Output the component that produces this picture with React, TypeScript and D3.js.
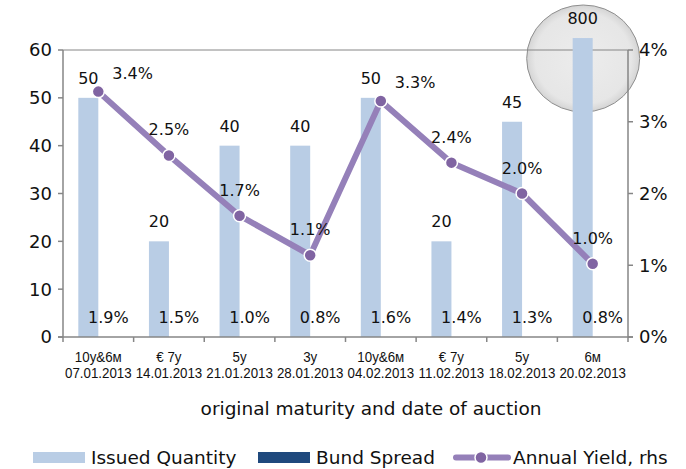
import React from "react";
import * as d3 from "d3";

const categories = ["10y&6м|07.01.2013", "€ 7y|14.01.2013", "5y|21.01.2013", "3y|28.01.2013", "10y&6м|04.02.2013", "€ 7y|11.02.2013", "5y|18.02.2013", "6м|20.02.2013"];
const issuedQuantity = [50, 20, 40, 40, 50, 20, 45, 800];
const bundSpread = [1.9, 1.5, 1.0, 0.8, 1.6, 1.4, 1.3, 0.8];
const annualYield = [3.42, 2.53, 1.69, 1.14, 3.29, 2.43, 2.0, 1.02];
const leftTicks = [0, 10, 20, 30, 40, 50, 60];
const rightTicks = [0, 1, 2, 3, 4];
const yieldLabelPlacement = ["right", "above", "above", "above", "right", "above", "above", "above"];

const W = 686, H = 469;
const M = { left: 63, right: 628, top: 50, bottom: 337 };
const BREAK_CAP = 62.5;
const FONT = "'DejaVu Sans', Verdana, sans-serif";
const NARROW = "'Liberation Sans', Arial, sans-serif";
const AXIS = "#868686";
const BAR = "#B9CDE5";
const DARK = "#1F497D";
const LINE = "#9580B9";
const DOT = "#8064A2";

export default function App() {
  const x = d3.scaleBand<number>().domain(d3.range(categories.length)).range([M.left, M.right]).paddingInner(0).paddingOuter(0);
  const yL = d3.scaleLinear().domain([0, 60]).range([M.bottom, M.top]);
  const yR = d3.scaleLinear().domain([0, 4]).range([M.bottom, M.top]);
  const cx = (i: number) => (x(i) as number) + x.bandwidth() / 2;
  const barW = 20;
  const line = d3.line<number>().x((_, i) => cx(i)).y((d) => yR(d));

  const lastI = issuedQuantity.length - 1;
  const magCx = cx(lastI) - 9.5;

  return (
    <svg width={W} height={H} style={{ position: "absolute", left: 0, top: 0, background: "#fff" }}>
      <defs>
        <radialGradient id="mag" cx="50%" cy="50%" r="50%">
          <stop offset="0%" stopColor="#e6e6e6" stopOpacity={0.75} />
          <stop offset="85%" stopColor="#e0e0e0" stopOpacity={0.8} />
          <stop offset="100%" stopColor="#cfcfcf" stopOpacity={0.9} />
        </radialGradient>
      </defs>

      {/* magnifier */}
      <ellipse cx={magCx} cy={58.5} rx={56.5} ry={53.5} fill="url(#mag)" stroke="#8f8f8f" strokeWidth={1} />

      {/* top border */}
      <line x1={M.left} x2={M.right} y1={M.top} y2={M.top} stroke={AXIS} strokeWidth={1} />

      {/* issued quantity bars */}
      {issuedQuantity.map((v, i) => (
        <rect key={"b" + i} x={cx(i) - barW} width={barW} y={yL(Math.min(v, BREAK_CAP))} height={M.bottom - yL(Math.min(v, BREAK_CAP))} fill={BAR} />
      ))}

      {/* left axis */}
      <line x1={M.left} x2={M.left} y1={M.top} y2={M.bottom} stroke={AXIS} strokeWidth={1.5} />
      {leftTicks.map((t) => (
        <g key={"lt" + t}>
          <line x1={M.left - 5} x2={M.left} y1={yL(t)} y2={yL(t)} stroke={AXIS} strokeWidth={1.5} />
          <text x={52} y={yL(t)} dy="0.36em" textAnchor="end" fontFamily={FONT} fontSize={18} fill="#111">{t}</text>
        </g>
      ))}

      {/* right axis */}
      <line x1={M.right} x2={M.right} y1={M.top} y2={M.bottom} stroke={AXIS} strokeWidth={1.5} />
      {rightTicks.map((t) => (
        <g key={"rt" + t}>
          <line x1={M.right} x2={M.right + 5} y1={yR(t)} y2={yR(t)} stroke={AXIS} strokeWidth={1.5} />
          <text x={639} y={yR(t)} dy="0.36em" textAnchor="start" fontFamily={FONT} fontSize={18} fill="#111">{t + "%"}</text>
        </g>
      ))}

      {/* x axis */}
      <line x1={M.left - 5} x2={M.right + 5} y1={M.bottom} y2={M.bottom} stroke={AXIS} strokeWidth={1.5} />
      {d3.range(categories.length + 1).map((i) => {
        const xx = i < categories.length ? (x(i) as number) : M.right;
        return <line key={"xt" + i} x1={xx} x2={xx} y1={M.bottom} y2={M.bottom + 5} stroke={AXIS} strokeWidth={1.5} />;
      })}
      {categories.map((c, i) => {
        const [a, b] = c.split("|");
        return (
          <text key={"xl" + i} transform={`translate(${cx(i)},0) scale(0.86,1)`} textAnchor="middle" fontFamily={NARROW} fontSize={15.5} fill="#111">
            <tspan x={0} y={362}>{a}</tspan>
            <tspan x={0} y={378.5}>{b}</tspan>
          </text>
        );
      })}
      <text x={371} y={415} textAnchor="middle" fontFamily={FONT} fontSize={18.5} fill="#111">original maturity and date of auction</text>

      {/* issued quantity labels */}
      {issuedQuantity.map((v, i) => (
        <text key={"ql" + i} x={cx(i) - barW / 2} y={yL(Math.min(v, BREAK_CAP)) - 14} textAnchor="middle" fontFamily={FONT} fontSize={16} fill="#111">{v}</text>
      ))}

      {/* bund spread labels */}
      {bundSpread.map((v, i) => (
        <text key={"bl" + i} x={cx(i) + 10} y={323} textAnchor="middle" fontFamily={FONT} fontSize={16} fill="#111">{v.toFixed(1) + "%"}</text>
      ))}

      {/* yield line */}
      <path d={line(annualYield) || ""} fill="none" stroke={LINE} strokeWidth={6} strokeLinejoin="round" strokeLinecap="round" />
      {annualYield.map((v, i) => (
        <circle key={"p" + i} cx={cx(i)} cy={yR(v)} r={6} fill={DOT} stroke="#fff" strokeWidth={1.5} />
      ))}
      {annualYield.map((v, i) => {
        const right = yieldLabelPlacement[i] === "right";
        return (
          <text key={"yl" + i} x={right ? cx(i) + 14 : cx(i)} y={right ? yR(v) - 13 : yR(v) - 20} textAnchor={right ? "start" : "middle"} fontFamily={FONT} fontSize={16} fill="#111">{v.toFixed(1) + "%"}</text>
        );
      })}

      {/* legend */}
      <rect x={33} y={452} width={52} height={11} fill={BAR} />
      <text x={91} y={464} fontFamily={FONT} fontSize={18.5} fill="#111">Issued Quantity</text>
      <rect x={258} y={452} width={52} height={11} fill={DARK} />
      <text x={316} y={464} fontFamily={FONT} fontSize={18.5} fill="#111">Bund Spread</text>
      <line x1={456} x2={508} y1={457.5} y2={457.5} stroke={LINE} strokeWidth={6} strokeLinecap="round" />
      <circle cx={481} cy={457.5} r={6} fill={DOT} stroke="#fff" strokeWidth={1.5} />
      <text x={513} y={464} fontFamily={FONT} fontSize={18.5} fill="#111">Annual Yield, rhs</text>
    </svg>
  );
}
